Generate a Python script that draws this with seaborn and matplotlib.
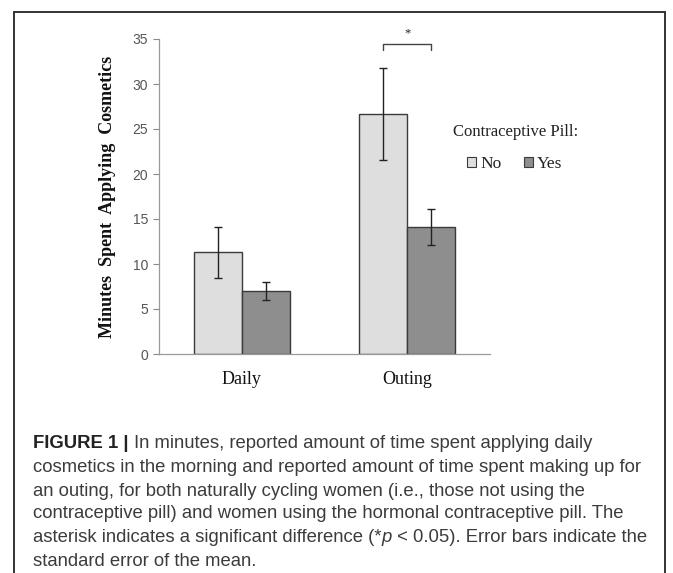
import matplotlib
matplotlib.use("Agg")
import matplotlib.pyplot as plt
import seaborn as sns
import pandas as pd
import numpy as np
from matplotlib.lines import Line2D

# ---- data ----
categories = ["Daily", "Outing"]
pill_groups = ["No", "Yes"]
mean_no = [11.3, 26.7]
mean_yes = [7.0, 14.1]
se_no = [2.8, 5.1]
se_yes = [1.0, 2.0]
y_ticks = [0, 5, 10, 15, 20, 25, 30, 35]

df = pd.DataFrame({
    "Occasion": categories * 2,
    "Pill": [pill_groups[0]] * 2 + [pill_groups[1]] * 2,
    "Minutes": mean_no + mean_yes,
    "SE": se_no + se_yes,
})

sns.set_style("white")
W, H = 673, 573
fig = plt.figure(figsize=(W / 100, H / 100), dpi=100)

def fx(px):
    return px / W

def fy(py):
    return 1 - py / H

ax = fig.add_axes([fx(159), fy(354), fx(490) - fx(159), fy(39) - fy(354)])

colors = {"No": "#dedede", "Yes": "#8e8e8e"}
sns.barplot(data=df, x="Occasion", y="Minutes", hue="Pill", order=categories,
            hue_order=pill_groups, palette=colors, edgecolor="#3a3a3a",
            linewidth=1.0, width=0.58, errorbar=None, ax=ax, legend=False)

# error bars from bar geometry
for cont, grp in zip(ax.containers, pill_groups):
    sub = df[df["Pill"] == grp].set_index("Occasion").loc[categories]
    xs = [b.get_x() + b.get_width() / 2 for b in cont]
    ax.errorbar(xs, sub["Minutes"].values, yerr=sub["SE"].values, fmt="none",
                ecolor="#222222", elinewidth=1.0, capsize=2.6, capthick=1.0, zorder=5)

ax.set_xlim(-0.5, 1.5)
ax.set_ylim(0, 35)
ax.set_yticks(y_ticks)
ax.set_yticklabels([str(t) for t in y_ticks], fontsize=10, color="#555555",
                   family="Liberation Sans")
ax.set_xticks([0, 1])
ax.set_xticklabels(categories, fontsize=13, family="Liberation Serif", color="#111111")
ax.set_xticks([-0.5, 0.5, 1.5], minor=True)
ax.tick_params(axis="x", which="major", length=0, pad=12)
ax.tick_params(axis="x", which="minor", length=4, direction="out", color="#888888", width=0.8)
ax.tick_params(axis="y", length=4, direction="out", color="#888888", width=0.8, pad=4, left=True)
ax.set_xlabel("")
ax.set_ylabel("Minutes  Spent  Applying  Cosmetics", fontsize=13, fontweight="bold",
              family="Liberation Serif", color="#111111", va="center")
ax.yaxis.set_label_coords((108 - 159) / 331, 0.5)
for s in ["top", "right"]:
    ax.spines[s].set_visible(False)
for s in ["left", "bottom"]:
    ax.spines[s].set_color("#999999")
    ax.spines[s].set_linewidth(0.9)

# significance bracket over Outing bars
outing_bars = [cont[1] for cont in ax.containers]
x1 = outing_bars[0].get_x() + outing_bars[0].get_width() / 2
x2 = outing_bars[1].get_x() + outing_bars[1].get_width() / 2
ax.plot([x1, x1, x2, x2], [33.8, 34.45, 34.45, 33.8], color="#444444", lw=1.0, clip_on=False)
ax.text((x1 + x2) / 2, 35.6, "*", ha="center", va="center", fontsize=9,
        family="Liberation Serif", color="#222222", clip_on=False)

# legend
fig.text(fx(516), fy(132), "Contraceptive Pill:", ha="center", va="center",
         family="Liberation Serif", fontsize=12, color="#222222")
handles = [plt.Rectangle((0, 0), 1, 1, facecolor=colors[g], edgecolor="#3a3a3a", linewidth=0.8)
           for g in pill_groups]
leg = fig.legend(handles, pill_groups, ncol=2, frameon=False,
                 loc="center", bbox_to_anchor=(fx(515), fy(164)),
                 handlelength=0.5, handleheight=0.5, handletextpad=0.25, columnspacing=1.3,
                 prop={"family": "Liberation Serif", "size": 12.5})
for t in leg.get_texts():
    t.set_color("#222222")

# frame around figure
frame_kw = dict(color="#333333", lw=1.4, transform=fig.transFigure)
fig.add_artist(Line2D([fx(14), fx(665)], [fy(12), fy(12)], **frame_kw))
fig.add_artist(Line2D([fx(14), fx(14)], [fy(12), 0], **frame_kw))
fig.add_artist(Line2D([fx(665), fx(665)], [fy(12), 0], **frame_kw))

# caption
cap_font = "Liberation Sans"
cap_color = "#3c3c3c"
lines = [
    [("FIGURE 1 | ", "bold", "normal", "#222222"), ("In minutes, reported amount of time spent applying daily", "normal", "normal", cap_color)],
    [("cosmetics in the morning and reported amount of time spent making up for", "normal", "normal", cap_color)],
    [("an outing, for both naturally cycling women (i.e., those not using the", "normal", "normal", cap_color)],
    [("contraceptive pill) and women using the hormonal contraceptive pill. The", "normal", "normal", cap_color)],
    [("asterisk indicates a significant difference (*", "normal", "normal", cap_color), ("p", "normal", "italic", cap_color),
     (" < 0.05). Error bars indicate the", "normal", "normal", cap_color)],
    [("standard error of the mean.", "normal", "normal", cap_color)],
]
line_y = [443, 467, 491, 514, 538, 561]
fig.canvas.draw()
renderer = fig.canvas.get_renderer()
# fit font size so the second line spans the same width as in the reference
probe = fig.text(0, 0, lines[1][0][0], fontsize=12, family=cap_font)
pw = probe.get_window_extent(renderer=renderer).width
probe.remove()
cap_size = 12 * 612 / pw
for pieces, yy in zip(lines, line_y):
    xpx = 33
    for txt, wt, st, col in pieces:
        t = fig.text(fx(xpx), fy(yy), txt, fontsize=cap_size, fontweight=wt, fontstyle=st,
                     family=cap_font, color=col, va="center", ha="left")
        bb = t.get_window_extent(renderer=renderer)
        xpx += bb.width

fig.savefig("out.png", dpi=100)
